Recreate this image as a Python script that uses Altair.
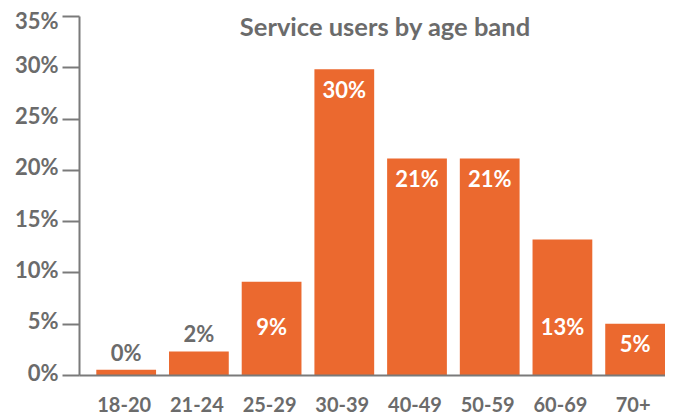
import altair as alt
import pandas as pd

bands = ["18-20", "21-24", "25-29", "30-39", "40-49", "50-59", "60-69", "70+"]
values = [0.5, 2.3, 9.1, 29.8, 21.1, 21.1, 13.2, 5.0]
labels = ["0%", "2%", "9%", "30%", "21%", "21%", "13%", "5%"]
y_ticks = [0, 5, 10, 15, 20, 25, 30, 35]

df = pd.DataFrame({"band": bands, "value": values, "label": labels})

ORANGE = "#EB692F"
GRAY = "#6B6B6B"
AXIS = "#7A7A7A"
FONT = "Lato"

base = alt.Chart(df).encode(
    x=alt.X(
        "band:N",
        sort=bands,
        scale=alt.Scale(paddingInner=0.178, paddingOuter=0.119, align=1),
        axis=alt.Axis(
            title=None, labelAngle=0, ticks=False, labelPadding=20,
            labelFont=FONT, labelFontSize=20, labelFontWeight="bold",
            labelColor=GRAY, domainColor=AXIS, domainWidth=2, zindex=1,
            labelOffset=-2,
        ),
    )
)

bars = base.mark_bar(color=ORANGE).encode(
    y=alt.Y(
        "value:Q",
        scale=alt.Scale(domain=[0, 35], nice=False),
        axis=alt.Axis(
            title=None, values=y_ticks, labelExpr="datum.value + '%'",
            grid=False, tickSize=17, tickWidth=2, tickColor=AXIS,
            domainColor=AXIS, domainWidth=2, labelPadding=4,
            labelFont=FONT, labelFontSize=22, labelFontWeight="bold",
            labelColor=GRAY, zindex=1,
            labelOffset={"condition": {"test": "datum.value == 35", "value": 5}, "value": -2},
        ),
    )
)

text_in = base.transform_filter("datum.value >= 4").transform_calculate(
    ly="datum.value > 15 ? datum.value - 2.1 : min(datum.value - 2.1, 4.6)"
).mark_text(
    color="white", font=FONT, fontSize=22, fontWeight="bold", baseline="middle"
).encode(y="ly:Q", text="label:N")

text_out = base.transform_filter("datum.value < 4").mark_text(
    color=GRAY, font=FONT, fontSize=22, fontWeight="bold", baseline="middle", dy=-16
).encode(y="value:Q", text="label:N")

chart = alt.layer(bars, text_in, text_out).properties(
    width=586,
    height=359,
    title=alt.Title(
        "Service users by age band", font=FONT, fontSize=25.5, fontWeight="bold",
        color=GRAY, anchor="middle", frame="group", baseline="alphabetic",
        offset=-51, dx=13,
    ),
    autosize=alt.AutoSizeParams(type="none"),
    padding={"left": 71, "top": 8, "right": 0, "bottom": 40},
).configure_view(stroke=None)

chart.save("out.html", embed_options={"renderer": "svg", "actions": False})
